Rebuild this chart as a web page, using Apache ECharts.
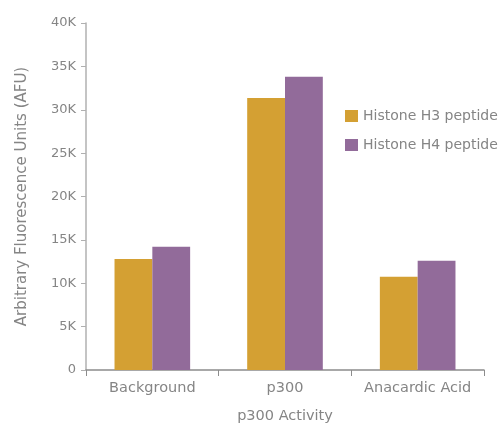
<!DOCTYPE html>
<html><head><meta charset="utf-8">
<script src="https://cdn.jsdelivr.net/npm/echarts@6/dist/echarts.min.js"></script>
<style>html,body{margin:0;padding:0;background:#fff}#c{width:499px;height:424px}</style>
</head><body><div id="c"></div>
<script>
const categories = ['Background', 'p300', 'Anacardic Acid'];
const seriesNames = ['Histone H3 peptide', 'Histone H4 peptide'];
const h3Values = [12800, 31350, 10750];
const h4Values = [14200, 33800, 12600];
const colors = ['#D4A033', '#926B9A'];
const FONT = 'DejaVu Sans';
const TXT = '#858585';
const chart = echarts.init(document.getElementById('c'));
chart.setOption({
  animation: false,
  textStyle: {fontFamily: FONT},
  grid: {left: 86, right: 15, top: 23, bottom: 54, containLabel: false, outerBoundsMode: 'none'},
  legend: {
    orient: 'vertical', left: 340, top: 104, itemWidth: 13, itemHeight: 12, itemGap: 15,
    icon: 'rect',
    textStyle: {color: TXT, fontSize: 14, fontFamily: FONT},
    data: seriesNames
  },
  xAxis: {
    type: 'category', data: categories,
    name: 'p300 Activity', nameLocation: 'middle', nameGap: 39,
    nameTextStyle: {color: TXT, fontSize: 14.5, fontFamily: FONT},
    axisLine: {lineStyle: {color: '#8c8c8c', width: 1.5}},
    axisTick: {show: true, length: 6, lineStyle: {color: '#8c8c8c'}},
    axisLabel: {color: TXT, fontSize: 14.5, margin: 11, fontFamily: FONT, interval: 0}
  },
  yAxis: {
    type: 'value', min: 0, max: 40000, interval: 5000,
    name: 'Arbitrary Fluorescence Units (AFU)', nameLocation: 'middle', nameGap: 56,
    nameTextStyle: {color: TXT, fontSize: 15, fontFamily: FONT},
    axisLine: {show: true, lineStyle: {color: '#b0b0b0', width: 1.5}},
    axisTick: {show: true, length: 5, lineStyle: {color: '#b0b0b0'}},
    splitLine: {show: false},
    axisLabel: {color: TXT, fontSize: 13, margin: 10, fontFamily: FONT,
      formatter: v => v === 0 ? '0' : (v / 1000) + 'K'}
  },
  series: [
    {name: seriesNames[0], type: 'bar', data: h3Values, itemStyle: {color: colors[0]}, barGap: '0%', barCategoryGap: '43%'},
    {name: seriesNames[1], type: 'bar', data: h4Values, itemStyle: {color: colors[1]}, barGap: '0%', barCategoryGap: '43%'}
  ]
});
</script></body></html>
